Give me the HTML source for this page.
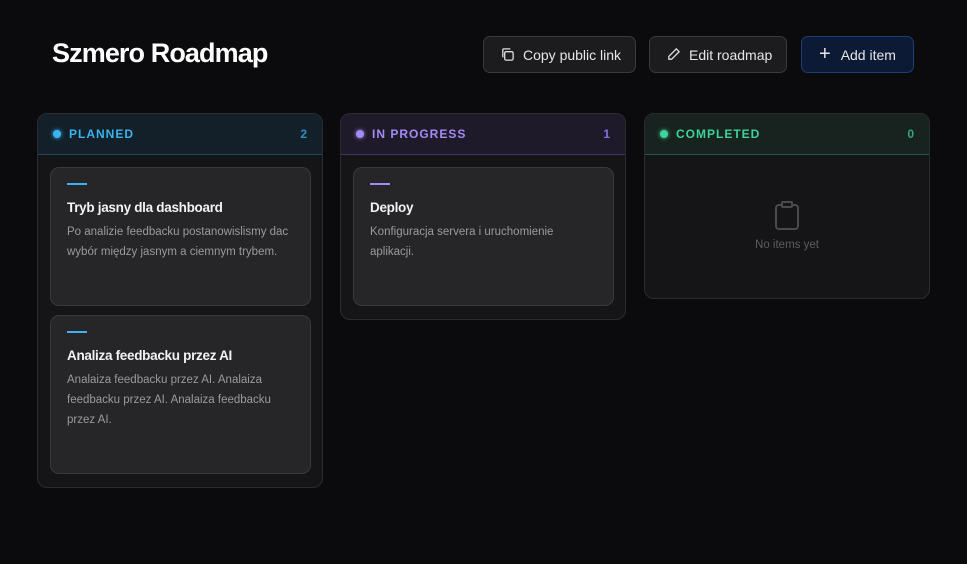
<!DOCTYPE html>
<html><head><meta charset="utf-8"><style>
*{box-sizing:border-box;margin:0;padding:0}
body{width:967px;height:564px;background:#0b0b0d;font-family:"Liberation Sans",sans-serif;color:#fff;position:relative;overflow:hidden}
.abs{position:absolute}
h1{position:absolute;left:52px;top:38px;font-size:27px;font-weight:bold;letter-spacing:-0.9px;color:#fff}
.btn{position:absolute;top:36px;height:37px;border:1px solid #3a3a3e;background:#1c1c1f;border-radius:7px;font-size:14px;color:#e6e6e6;display:flex;align-items:center;padding-left:16px;gap:8px}
.col{position:absolute;top:113px;width:286px;border:1px solid #2c2c30;border-radius:10px;background:#151517;overflow:hidden}
.hd{height:41px;display:flex;align-items:center;padding:0 15px;font-size:12px;font-weight:bold;letter-spacing:1px;border-bottom:1px solid}
.dot{width:8px;height:8px;border-radius:50%;margin-right:8px}
.cnt{margin-left:auto;letter-spacing:0}
.card{position:absolute;left:12px;width:261px;background:#262628;border:1px solid #39393c;border-radius:9px;padding:0 16px}
.bar{width:20px;height:2px;margin-top:15px}
.t{font-size:13.5px;font-weight:bold;margin-top:15px;color:#f2f2f2;letter-spacing:-0.3px}
.d{font-size:11.5px;color:#9a9a9e;line-height:20px;margin-top:7px}
</style></head><body>
<h1>Szmero Roadmap</h1>
<div class="btn" style="left:483px;width:153px"><svg width="15" height="15" viewBox="0 0 16 16" fill="none" stroke="#ddd" stroke-width="1.4"><rect x="5" y="5" width="9" height="9" rx="1.5"/><path d="M3 11V3a1 1 0 0 1 1-1h7"/></svg>Copy public link</div>
<div class="btn" style="left:649px;width:138px"><svg width="15" height="15" viewBox="0 0 16 16" fill="none" stroke="#ddd" stroke-width="1.4"><path d="M11 2l3 3-8 8H3v-3z"/></svg>Edit roadmap</div>
<div class="btn" style="left:801px;width:113px;background:#0d1a35;border-color:#1e3c78;padding-left:17px;gap:10px"><span style="font-size:20px;line-height:1;margin-top:-2px">+</span>Add item</div>

<div class="col" style="left:37px;height:375px">
<div class="hd" style="background:#13202a;border-color:#1c4a64;color:#3ab3ef"><span class="dot" style="background:#3ab3ef;box-shadow:0 0 4px #3ab3ef"></span>PLANNED<span class="cnt" style="color:#2e8dc0">2</span></div>
<div class="card" style="top:53px;height:139px"><div class="bar" style="background:#3ab3ef"></div><div class="t">Tryb jasny dla dashboard</div><div class="d">Po analizie feedbacku postanowislismy dac wybór między jasnym a ciemnym trybem.</div></div>
<div class="card" style="top:201px;height:159px"><div class="bar" style="background:#3ab3ef"></div><div class="t">Analiza feedbacku przez AI</div><div class="d">Analaiza feedbacku przez AI. Analaiza feedbacku przez AI. Analaiza feedbacku przez AI.</div></div>
</div>

<div class="col" style="left:340px;height:207px">
<div class="hd" style="background:#1e1a2a;border-color:#3f3366;color:#a48af5"><span class="dot" style="background:#a48af5;box-shadow:0 0 4px #a48af5"></span>IN PROGRESS<span class="cnt" style="color:#8a6fe0">1</span></div>
<div class="card" style="top:53px;height:139px"><div class="bar" style="background:#a48af5"></div><div class="t">Deploy</div><div class="d">Konfiguracja servera i uruchomienie aplikacji.</div></div>
</div>

<div class="col" style="left:644px;height:186px">
<div class="hd" style="background:#18221f;border-color:#1f5a44;color:#3dd39a"><span class="dot" style="background:#3dd39a;box-shadow:0 0 4px #3dd39a"></span>COMPLETED<span class="cnt" style="color:#2fa97a">0</span></div>
<svg class="abs" style="left:129px;top:87px" width="26" height="30" viewBox="0 0 26 30" fill="none" stroke="#4a4a4e" stroke-width="2"><rect x="2" y="4" width="22" height="24" rx="3"/><rect x="8" y="1" width="10" height="5" rx="1" fill="#151517"/></svg>
<div class="abs" style="left:0;width:284px;top:125px;text-align:center;font-size:11.5px;color:#5c5c60">No items yet</div>
</div>
</body></html>
